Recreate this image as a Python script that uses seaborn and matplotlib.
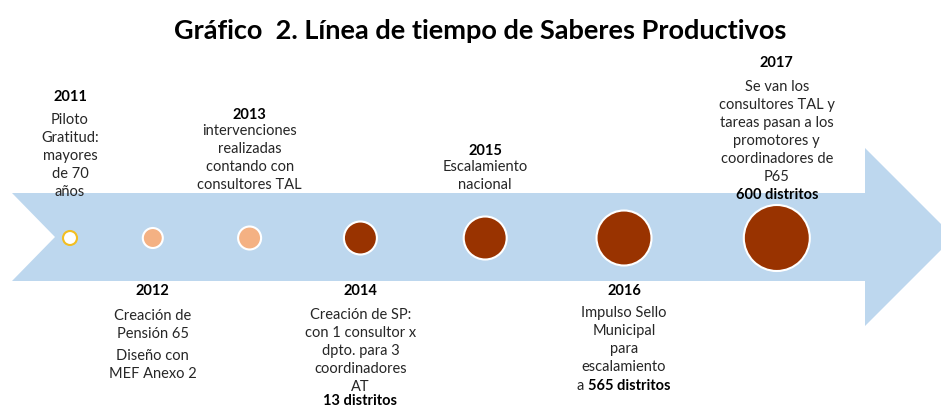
import numpy as np
import pandas as pd
import seaborn as sns
import matplotlib.pyplot as plt
from matplotlib.patches import Polygon
from matplotlib.transforms import offset_copy

# --- data ---
years = [2011, 2012, 2013, 2014, 2015, 2016, 2017]
phase = ['piloto', 'inicial', 'inicial', 'escalamiento', 'escalamiento', 'escalamiento', 'escalamiento']
bubble_diam = [14, 20, 23, 33, 43, 55, 66]  # px
descriptions = [
    ["Piloto\nGratitud:\nmayores\nde 70\naños"],
    ["Creación de\nPensión 65", "Diseño con\nMEF Anexo 2"],
    ["intervenciones\nrealizadas\ncontando con\nconsultores TAL"],
    ["Creación de SP:\ncon 1 consultor x\ndpto. para 3\ncoordinadores\nAT"],
    ["Escalamiento\nnacional"],
    ["Impulso Sello\nMunicipal\npara\nescalamiento"],
    ["Se van los\nconsultores TAL y\ntareas pasan a los\npromotores y\ncoordinadores de\nP65"],
]
bold_note = ["", "", "", "13 distritos", "", "565 distritos", "600 distritos"]
note_prefix = ["", "", "", "", "", "a ", ""]
title = "Gráfico  2. Línea de tiempo de Saberes Productivos"

# --- layout (pixel rows) ---
W, H = 941, 408
MID = 238
year_y = [97, 291, 115, 291, 151, 291, 63]
desc_y = [121, 317, 132, 316, 168, 314, 88]
note_y = [0, 0, 0, 401, 0, 386, 195]
LINE = 18

sns.set_theme(style='white')
plt.rcParams['font.family'] = ['Lato', 'DejaVu Sans']

df = pd.DataFrame({'year': years, 'phase': phase})
df['area'] = (np.array(bubble_diam) * 0.72) ** 2
df['y'] = MID

fig = plt.figure(figsize=(W / 100, H / 100), dpi=100)
ax = fig.add_axes([0, 0, 1, 1])

# timeline gets wider as years go on
A, B = 75.8, 7.0
def fwd(y):
    t = np.asarray(y, dtype=float) - 2011
    return A * t + B * t * t
def inv(p):
    p = np.asarray(p, dtype=float)
    return 2011 + (-A + np.sqrt(np.maximum(A * A + 4 * B * p, 0))) / (2 * B)

ax.set_xscale('function', functions=(fwd, inv))
X0 = 70
ax.set_xlim(float(inv(-X0)), float(inv(W - X0)))
ax.set_ylim(H, 0)
ax.axis('off')

# the big arrow
arrow_px = np.array([(12, 193), (865, 193), (865, 148), (954, 237),
                     (865, 326), (865, 281), (12, 281), (55, 237)], dtype=float)
arrow_ax = np.column_stack([arrow_px[:, 0] / W, 1 - arrow_px[:, 1] / H])
ax.add_patch(Polygon(arrow_ax, closed=True, transform=ax.transAxes,
                     facecolor='#BDD7EE', edgecolor='none', zorder=0))

palette = {'piloto': 'white', 'inicial': '#F4B183', 'escalamiento': '#993300'}
sns.scatterplot(data=df, x='year', y='y', hue='phase', palette=palette,
                size='area', sizes=(df['area'].min(), df['area'].max()),
                size_norm=(df['area'].min(), df['area'].max()),
                legend=False, ax=ax, zorder=3, linewidth=1.5)
edges = ['#F2BE22' if p == 'piloto' else 'white' for p in phase]
ax.collections[-1].set_edgecolors(edges)

fs = 10.5
ls = 1.36
txt_color = '#262626'
fig.canvas.draw()
renderer = fig.canvas.get_renderer()
for i, yr in enumerate(years):
    ax.text(yr, year_y[i], str(yr), ha='center', va='center', fontsize=fs,
            fontweight='bold', color='black')
    y0 = desc_y[i]
    for para in descriptions[i]:
        n = para.count('\n') + 1
        ax.text(yr, y0 - LINE / 2 + 1, para, ha='center', va='top', fontsize=fs,
                color=txt_color, linespacing=ls)
        y0 += n * LINE + 4
    if bold_note[i]:
        if note_prefix[i]:
            t1 = ax.text(yr, note_y[i], note_prefix[i], ha='right', va='center',
                         fontsize=fs, color=txt_color)
            t2 = ax.text(yr, note_y[i], bold_note[i], ha='left', va='center',
                         fontsize=fs, fontweight='bold', color='black')
            w1 = t1.get_window_extent(renderer).width
            w2 = t2.get_window_extent(renderer).width
            shift = (w1 - w2) / 2
            t1.set_transform(offset_copy(ax.transData, fig=fig, x=shift, units='dots'))
            t2.set_transform(offset_copy(ax.transData, fig=fig, x=shift, units='dots'))
        else:
            ax.text(yr, note_y[i], bold_note[i], ha='center', va='center',
                    fontsize=fs, fontweight='bold', color='black')

fig.text(0.51, 1 - 31 / H, title, ha='center', va='center', fontsize=19.5,
         fontweight='bold', color='black')

fig.savefig('out.png', dpi=100)
